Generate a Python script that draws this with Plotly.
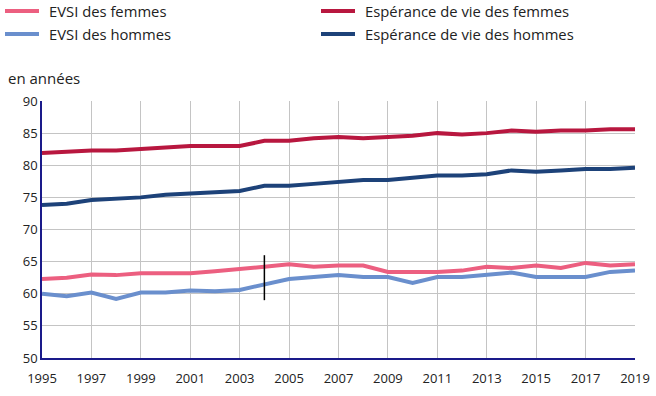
import plotly.graph_objects as go

years = list(range(1995, 2020))
esp_femmes = [81.9, 82.1, 82.3, 82.3, 82.5, 82.8, 83.0, 83.0, 83.0, 83.8, 83.8, 84.2, 84.4, 84.2, 84.4, 84.6, 85.0, 84.8, 85.0, 85.4, 85.2, 85.4, 85.4, 85.6, 85.6]
esp_hommes = [73.8, 74.0, 74.6, 74.8, 75.0, 75.4, 75.6, 75.8, 76.0, 76.8, 76.8, 77.1, 77.4, 77.7, 77.7, 78.0, 78.4, 78.4, 78.6, 79.2, 79.0, 79.2, 79.4, 79.4, 79.6]
evsi_femmes = [62.3, 62.5, 63.0, 62.9, 63.2, 63.2, 63.2, 63.5, 63.8, 64.2, 64.6, 64.2, 64.4, 64.4, 63.4, 63.4, 63.4, 63.6, 64.2, 64.0, 64.4, 64.0, 64.8, 64.4, 64.6]
evsi_hommes = [60.0, 59.6, 60.2, 59.2, 60.2, 60.2, 60.5, 60.4, 60.6, 61.5, 62.3, 62.6, 62.9, 62.6, 62.6, 61.7, 62.6, 62.6, 62.9, 63.3, 62.6, 62.6, 62.6, 63.4, 63.6]
break_year = 2004
break_span = [59.0, 66.0]

series = [
    ("EVSI des femmes", evsi_femmes, "#ec5f80"),
    ("Espérance de vie des femmes", esp_femmes, "#b8173f"),
    ("EVSI des hommes", evsi_hommes, "#6a8fcd"),
    ("Espérance de vie des hommes", esp_hommes, "#1d4279"),
]

W, H = 656, 396
ML, MR, MT, MB = 42, 21, 101, 38
PW, PH = W - ML - MR, H - MT - MB

def px(x):
    return (x - ML) / PW

def py(y):
    return (H - MB - y) / PH

fig = go.Figure()
for name, vals, col in series:
    fig.add_trace(go.Scatter(x=years, y=vals, mode="lines", name=name,
                             line=dict(color=col, width=4), hoverinfo="skip"))

fig.add_trace(go.Scatter(x=[break_year, break_year], y=break_span, mode="lines",
                         line=dict(color="black", width=1.5), hoverinfo="skip"))

# manual legend (2 columns)
legend_pos = [(5, 11), (321, 11), (5, 34), (321, 34)]
shapes, annotations = [], []
for (name, _, col), (lx, ly) in zip(series, legend_pos):
    shapes.append(dict(type="line", xref="paper", yref="paper",
                       x0=px(lx), x1=px(lx + 34), y0=py(ly), y1=py(ly),
                       line=dict(color=col, width=4)))
    annotations.append(dict(text=name, xref="paper", yref="paper", x=px(lx + 42), y=py(ly),
                            xanchor="left", yanchor="middle", showarrow=False,
                            font=dict(size=14.8, color="#222")))
annotations.append(dict(text="en années", xref="paper", yref="paper", x=px(6), y=py(78),
                        xanchor="left", yanchor="middle", showarrow=False,
                        font=dict(size=15, color="#222")))

font = "Open Sans, Noto Sans, sans-serif"
fig.update_layout(
    width=W, height=H,
    margin=dict(l=ML, r=MR, t=MT, b=MB),
    paper_bgcolor="white", plot_bgcolor="white",
    font=dict(family=font, size=13, color="#222"),
    showlegend=False,
    shapes=shapes, annotations=annotations,
)
fig.update_xaxes(range=[1995, 2019], dtick=2, tick0=1995, showgrid=True, gridcolor="#c4c4c4",
                 gridwidth=1, showline=True, linecolor="#1a1a8a", linewidth=1.5,
                 ticks="", tickfont=dict(size=13), zeroline=False, automargin=False,
                 ticklabelstandoff=8)
fig.update_yaxes(range=[50, 90], dtick=5, showgrid=True, gridcolor="#c4c4c4", gridwidth=1,
                 showline=True, linecolor="#1a1a8a", linewidth=1.5, ticks="",
                 tickfont=dict(size=13), zeroline=False, automargin=False)

fig.write_html("out.html", config={"displayModeBar": False},
               post_script="document.body.style.margin='0';document.body.style.padding='0';")
